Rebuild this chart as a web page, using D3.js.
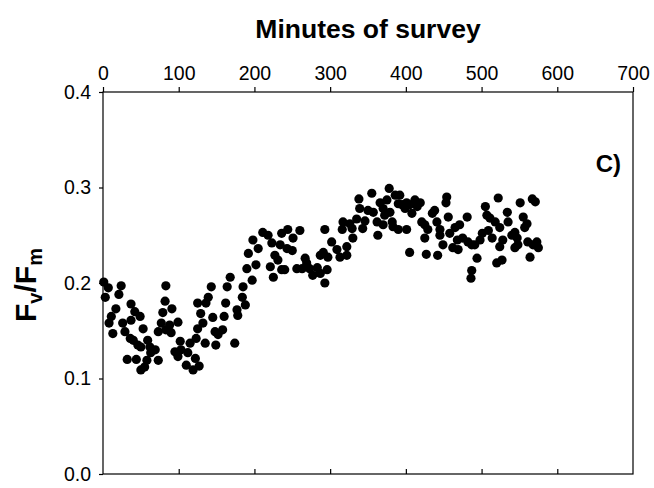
<!DOCTYPE html>
<html><head><meta charset="utf-8">
<script src="https://cdn.jsdelivr.net/npm/d3@7"></script>
<style>html,body{margin:0;padding:0;background:#fff;}</style>
</head><body>
<script>
const minutes = [1,7,3,24,21,37,17,11,8,13,26,29,37,42,49,36,40,46,53,50,59,62,63,58,55,50,32,44,73,69,83,82,91,79,77,88,99,73,83,90,102,95,103,99,110,119,122,112,115,123,125,135,132,129,125,136,139,143,145,148,152,149,158,162,164,127,160,
168,185,184,188,190,197,202,192,198,205,211,218,223,227,231,221,225,236,240,234,236,244,251,260,243,250,256,267,269,263,273,277,283,287,293,296,287,291,297,293,302,309,313,316,317,322,174,178,177,
322,329,330,335,338,339,343,346,350,355,357,362,363,366,370,372,375,378,379,383,386,390,392,395,399,401,405,408,412,415,419,421,425,425,405,427,429,435,438,441,445,445,442,449,454,453,456,458,462,465,468,471,475,481,482,487,491,494,326,370,382,390,401,469,487,486,
498,501,505,507,509,511,514,518,522,524,524,520,527,528,534,535,540,544,547,544,548,551,555,557,560,561,564,567,571,568,573,575];
const fvfm = [.201,.195,.185,.197,.188,.178,.173,.165,.158,.147,.158,.149,.161,.170,.165,.142,.140,.135,.152,.133,.140,.133,.127,.119,.112,.109,.120,.120,.119,.130,.197,.181,.173,.169,.158,.156,.159,.149,.151,.148,.139,.128,.130,.123,.114,.109,.121,.127,.137,.142,.152,.137,.158,.168,.179,.179,.185,.196,.164,.149,.146,.135,.151,.179,.196,.113,.165,
.206,.196,.185,.177,.215,.203,.219,.231,.245,.236,.253,.250,.242,.229,.224,.217,.206,.214,.214,.240,.252,.256,.247,.255,.236,.234,.215,.226,.221,.215,.215,.208,.216,.210,.200,.214,.229,.232,.227,.256,.243,.235,.227,.256,.264,.238,.137,.166,.172,
.229,.257,.247,.267,.288,.278,.257,.265,.276,.294,.274,.264,.250,.284,.278,.271,.287,.299,.274,.259,.292,.256,.292,.282,.278,.256,.282,.273,.287,.280,.284,.264,.261,.247,.232,.230,.256,.273,.276,.264,.256,.250,.229,.240,.290,.284,.269,.252,.237,.258,.245,.261,.247,.269,.243,.240,.240,.226,.262,.261,.264,.283,.284,.235,.213,.205,
.245,.252,.280,.271,.255,.268,.247,.264,.289,.258,.238,.221,.224,.245,.274,.264,.250,.253,.247,.237,.240,.284,.269,.258,.262,.243,.227,.288,.285,.240,.243,.237];
const xTicks = [0,100,200,300,400,500,600,700];
const yTicks = [0.0,0.1,0.2,0.3,0.4];
const xTitle = "Minutes of survey";
const panelLabel = "C)";

(function () {
const W = 654, H = 488;
const pL = 103, pR = 633, pT = 92, pB = 474;
const FONT = "'Liberation Sans', Arial, sans-serif";
const svg = d3.select("body").append("svg").attr("width", W).attr("height", H)
  .style("font-family", FONT);
svg.append("rect").attr("width", W).attr("height", H).attr("fill", "#fff");

const x = d3.scaleLinear().domain([0, 700]).range([pL, pR]);
const y = d3.scaleLinear().domain([0, 0.4]).range([pB, pT]);

svg.append("rect").attr("x", pL).attr("y", pT).attr("width", pR - pL).attr("height", pB - pT)
  .attr("fill", "none").attr("stroke", "#000").attr("stroke-width", 1.2);

const gTop = svg.append("g").attr("transform", `translate(0,${pT})`)
  .call(d3.axisTop(x).tickValues(xTicks).tickFormat(d3.format("d")).tickSize(5).tickPadding(7));
gTop.select(".domain").remove();
gTop.selectAll("line").attr("stroke", "#000").attr("stroke-width", 1.2);
gTop.selectAll("text").attr("font-size", 19.5).attr("fill", "#000").attr("font-family", FONT);

const gBot = svg.append("g").attr("transform", `translate(0,${pB})`)
  .call(d3.axisBottom(x).tickValues(xTicks.slice(1, -1)).tickSize(-5).tickFormat(""));
gBot.select(".domain").remove();
gBot.selectAll("line").attr("stroke", "#000").attr("stroke-width", 1.2);

const gLeft = svg.append("g").attr("transform", `translate(${pL},0)`)
  .call(d3.axisLeft(y).tickValues(yTicks).tickFormat(d3.format(".1f")).tickSize(4).tickPadding(8));
gLeft.select(".domain").remove();
gLeft.selectAll("line").attr("stroke", "#000").attr("stroke-width", 1.2);
gLeft.selectAll("text").attr("font-size", 19.5).attr("fill", "#000").attr("font-family", FONT);

svg.append("text").attr("x", 368).attr("y", 38).attr("text-anchor", "middle")
  .attr("font-size", 26.5).attr("font-weight", "bold").text(xTitle);

const yl = svg.append("text").attr("transform", `translate(36,${(pT + pB) / 2 + 2}) rotate(-90)`)
  .attr("text-anchor", "middle").attr("font-size", 30).attr("font-weight", "bold");
yl.append("tspan").text("F");
yl.append("tspan").attr("font-size", 20).attr("dy", 6).text("v");
yl.append("tspan").attr("dy", -6).text("/F");
yl.append("tspan").attr("font-size", 20).attr("dy", 6).text("m");

svg.append("text").attr("x", 621).attr("y", 172).attr("text-anchor", "end")
  .attr("font-size", 24).attr("font-weight", "bold").text(panelLabel);

svg.append("g").selectAll("circle").data(minutes.map((m, i) => [m, fvfm[i]])).join("circle")
  .attr("cx", d => x(d[0])).attr("cy", d => y(d[1])).attr("r", 4.6).attr("fill", "#000");
})();
</script>
</body></html>
